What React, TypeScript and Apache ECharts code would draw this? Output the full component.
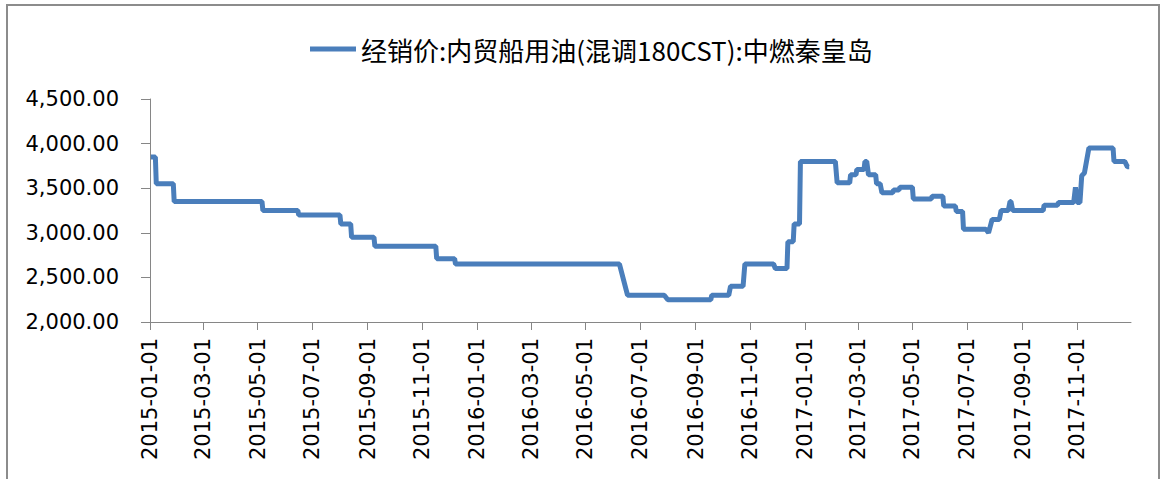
import React, { useEffect, useRef } from 'react';
import * as echarts from 'echarts';

const SERIES_NAME = '经销价:内贸船用油(混调180CST):中燃秦皇岛';
const START_DATE = '2015-01-01';
const END_DATE = '2017-12-31';
const Y_MIN = 2000;
const Y_MAX = 4500;
const Y_STEP = 500;

const POINT_DATES = [
  '2015-01-02', '2015-01-07', '2015-01-08', '2015-01-27', '2015-01-28', '2015-05-06',
  '2015-05-07', '2015-06-15', '2015-06-16', '2015-08-01', '2015-08-02', '2015-08-13',
  '2015-08-14', '2015-09-08', '2015-09-09', '2015-11-16', '2015-11-17', '2015-12-07',
  '2015-12-08', '2016-06-08', '2016-06-17', '2016-07-28', '2016-08-01', '2016-09-18',
  '2016-09-19', '2016-10-08', '2016-10-10', '2016-10-24', '2016-10-26', '2016-11-27',
  '2016-11-29', '2016-12-12', '2016-12-13', '2016-12-19', '2016-12-20', '2016-12-26',
  '2016-12-27', '2017-02-04', '2017-02-06', '2017-02-20', '2017-02-21', '2017-02-27',
  '2017-02-28', '2017-03-08', '2017-03-09', '2017-03-11', '2017-03-13', '2017-03-21',
  '2017-03-22', '2017-03-26', '2017-03-28', '2017-04-09', '2017-04-10', '2017-04-16',
  '2017-04-17', '2017-05-01', '2017-05-02', '2017-05-22', '2017-05-23', '2017-06-04',
  '2017-06-05', '2017-06-18', '2017-06-19', '2017-06-26', '2017-06-27', '2017-07-22',
  '2017-07-25', '2017-07-29', '2017-08-06', '2017-08-08', '2017-08-16', '2017-08-18',
  '2017-08-19', '2017-08-21', '2017-09-24', '2017-09-25', '2017-10-10', '2017-10-11',
  '2017-10-28', '2017-10-30', '2017-11-01', '2017-11-04', '2017-11-06', '2017-11-09',
  '2017-11-14', '2017-12-11', '2017-12-12', '2017-12-24', '2017-12-27', '2017-12-29',
];

const POINT_VALUES = [
  3850, 3850, 3550, 3550, 3350, 3350,
  3250, 3250, 3200, 3200, 3100, 3100,
  2950, 2950, 2850, 2850, 2710, 2710,
  2650, 2650, 2300, 2300, 2250, 2250,
  2300, 2300, 2400, 2400, 2650, 2650,
  2600, 2600, 2900, 2900, 3100, 3100,
  3800, 3800, 3560, 3560, 3650, 3650,
  3710, 3710, 3800, 3800, 3650, 3650,
  3550, 3550, 3450, 3450, 3480, 3480,
  3510, 3510, 3380, 3380, 3410, 3410,
  3300, 3300, 3240, 3240, 3040, 3040,
  3000, 3150, 3150, 3250, 3250, 3350,
  3350, 3250, 3250, 3310, 3310, 3340,
  3340, 3510, 3340, 3340, 3640, 3670,
  3950, 3950, 3800, 3800, 3740, 3740,
];

function buildDays(start: string, end: string): string[] {
  const out: string[] = [];
  const d = new Date(start + 'T00:00:00Z');
  const e = new Date(end + 'T00:00:00Z');
  while (d.getTime() <= e.getTime()) {
    out.push(d.toISOString().slice(0, 10));
    d.setUTCDate(d.getUTCDate() + 1);
  }
  return out;
}

const DAYS = buildDays(START_DATE, END_DATE);

function isTickDay(value: string): boolean {
  return value.slice(8, 10) === '01' && parseInt(value.slice(5, 7), 10) % 2 === 1;
}

function formatY(v: number): string {
  return v.toLocaleString('en-US', { minimumFractionDigits: 2, maximumFractionDigits: 2 });
}

export default function App() {
  const ref = useRef<HTMLDivElement>(null);
  useEffect(() => {
    document.body.style.margin = '0';
    document.body.style.overflow = 'hidden';
    if (!ref.current) return;
    const chart = echarts.init(ref.current, undefined, { renderer: 'svg' });
    const axisColor = '#868686';
    const labelFont = { fontFamily: 'DejaVu Sans', fontSize: 21, color: '#000' };
    chart.setOption({
      animation: false,
      backgroundColor: '#fff',
      graphic: [
        {
          type: 'rect',
          shape: { x: 7, y: 5, width: 1152, height: 500 },
          style: { fill: 'none', stroke: '#8c8c8c', lineWidth: 2 },
          silent: true,
        },
      ],
      legend: {
        left: 305,
        top: 31,
        icon: 'rect',
        itemWidth: 46,
        itemHeight: 5,
        itemGap: 10,
        textStyle: { fontFamily: 'Noto Sans CJK SC', fontSize: 26, color: '#000' },
        data: [SERIES_NAME],
      },
      grid: { left: 150, right: 30, top: 99, bottom: 157, containLabel: false },
      xAxis: {
        type: 'category',
        data: DAYS,
        boundaryGap: false,
        axisLine: { show: true, lineStyle: { color: axisColor, width: 1 } },
        axisTick: {
          show: true,
          length: 8,
          lineStyle: { color: axisColor },
          interval: (_i: number, v: string) => isTickDay(v),
        },
        axisLabel: {
          ...labelFont,
          rotate: 90,
          margin: 16,
          interval: (_i: number, v: string) => isTickDay(v),
        },
        splitLine: { show: false },
      },
      yAxis: {
        type: 'value',
        min: Y_MIN,
        max: Y_MAX,
        interval: Y_STEP,
        axisLine: { show: true, lineStyle: { color: axisColor, width: 1 } },
        axisTick: { show: true, length: 9, lineStyle: { color: axisColor } },
        axisLabel: { ...labelFont, margin: 31, formatter: (v: number) => formatY(v) },
        splitLine: { show: false },
      },
      series: [
        {
          name: SERIES_NAME,
          type: 'line',
          showSymbol: false,
          symbol: 'none',
          data: POINT_DATES.map((d, i) => [d, POINT_VALUES[i]]),
          lineStyle: { color: '#4A7EBB', width: 5 },
          itemStyle: { color: '#4A7EBB' },
        },
      ],
    });
    return () => chart.dispose();
  }, []);
  return <div ref={ref} style={{ width: 1161, height: 479 }} />;
}
